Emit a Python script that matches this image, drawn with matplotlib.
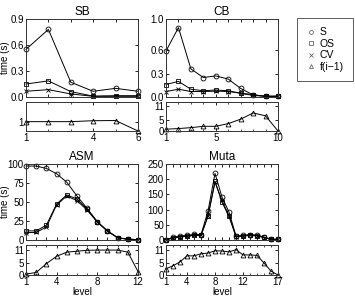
import numpy as np
import matplotlib
matplotlib.use("Agg")
import matplotlib.pyplot as plt
from matplotlib.lines import Line2D

plt.rcParams['font.family'] = ['Liberation Sans', 'DejaVu Sans']
plt.rcParams['font.size'] = 7

# datos
sb_S = [0.55, 0.78, 0.17, 0.066, 0.10, 0.066]
sb_OS = [0.15, 0.186, 0.062, 0.01, 0.015, 0.015]
sb_CV = [0.066, 0.085, 0.035, 0.008, 0.008, 0.008]
sb_f = [1, 1, 1, 1.1, 1.12, 0]

cb_S = [0.59, 0.89, 0.36, 0.25, 0.27, 0.23, 0.11, 0.026, 0.008, 0.008]
cb_OS = [0.16, 0.20, 0.10, 0.08, 0.09, 0.08, 0.047, 0.02, 0.01, 0.01]
cb_CV = [0.07, 0.10, 0.07, 0.07, 0.075, 0.07, 0.05, 0.03, 0.01, 0.01]
cb_f = [0.8, 1.1, 1.5, 2.1, 2.1, 3.3, 5.3, 8.1, 6.8, 0]

asm_S = [97.3, 97.3, 94.2, 87.2, 76.1, 58, 41.6, 24, 12, 3, 1, 0.5]
asm_OS = [12, 12, 19.5, 47.3, 59.3, 54, 40.7, 24, 12, 3, 1, 0.5]
asm_CV = [9.7, 10, 17, 46, 58, 51.8, 39.4, 23.5, 11.5, 3, 1, 0.5]
asm_f = [0.4, 1.1, 4.9, 8.1, 9.9, 10.3, 10.7, 10.8, 10.8, 10.8, 9.9, 1.5]

muta_S = [1, 8.7, 13, 15, 18.5, 17.5, 95, 219, 141, 92, 13, 15, 18, 16, 10, 2.5, 2.5]
muta_OS = [1, 7, 11, 13, 16, 15.5, 77.5, 193, 124, 77.5, 12, 13.5, 16.5, 14.5, 8.5, 2, 2]
muta_CV = [1, 6, 10, 12, 15, 15, 80, 190, 130, 80, 11, 12.5, 15.5, 13.5, 8, 2, 2]
muta_f = [2.7, 4, 5.7, 8.3, 8.3, 9.2, 9.5, 10.5, 10.4, 10, 11, 8.7, 8.7, 8.5, 5.2, 1.7, 0]

W, H = 355.0, 297.0
fig = plt.figure(figsize=(W / 100, H / 100), dpi=100)


def caja(x0, x1, y0, y1):
    return fig.add_axes([x0 / W, 1 - y1 / H, (x1 - x0) / W, (y1 - y0) / H])


def estilo(ax):
    for s in ax.spines.values():
        s.set_linewidth(0.7)
        s.set_color('#333333')
    ax.tick_params(direction='in', top=True, right=True, length=2.5, width=0.6,
                   pad=1.5, labelsize=7)
    ax.tick_params(which='minor', direction='in', top=True, right=True,
                   length=1.5, width=0.5)


kw = dict(color='black', lw=0.7, ms=3.5, mfc='none', mew=0.6, clip_on=False)


def panel(x0, x1, y0, ym, y1, S, OS, CV, f, titulo, yt, ytl, ylim, ft, fylim,
          xt, ylab=False, xlab=False):
    lv = np.arange(1, len(S) + 1)
    ax = caja(x0, x1, y0, ym)
    ax.plot(lv, S, marker='o', **kw)
    ax.plot(lv, OS, marker='s', **kw)
    ax.plot(lv, CV, marker='x', **kw)
    ax.set_xlim(1, len(S))
    ax.set_ylim(*ylim)
    ax.set_yticks(yt)
    ax.set_yticklabels(ytl)
    ax.set_xticks(lv)
    ax.set_xticklabels([])
    ax.set_title(titulo, fontsize=8.5, pad=3)
    if ylab:
        ax.set_ylabel('time (s)', fontsize=7)
        ax.yaxis.set_label_coords(-0.14, 0.5)
    estilo(ax)

    bx = caja(x0, x1, ym + 5, y1)
    bx.plot(lv, f, marker='^', **kw)
    bx.set_xlim(1, len(S))
    bx.set_ylim(*fylim)
    bx.set_yticks(ft)
    bx.set_xticks(xt)
    bx.set_xticks(lv, minor=True)
    if xlab:
        bx.set_xlabel('level', labelpad=0)
    estilo(bx)
    return ax, bx


panel(26, 138, 19, 97, 131, sb_S, sb_OS, sb_CV, sb_f, 'SB',
      [0, 0.3, 0.6, 0.9], ['0.0', '0.3', '0.6', '0.9'], (0, 0.9),
      [1], (0, 3.1), [1, 4, 6], ylab=True)
panel(166, 278, 19, 97, 131, cb_S, cb_OS, cb_CV, cb_f, 'CB',
      [0, 0.3, 0.6, 1.0], ['0.0', '0.3', '0.6', '1.0'], (0, 1.0),
      [0, 5, 11], (0, 13), [1, 5, 10])
panel(26, 138, 164, 240, 275, asm_S, asm_OS, asm_CV, asm_f, 'ASM',
      [0, 25, 50, 75, 100], ['0', '25', '50', '75', '100'], (0, 100),
      [0, 5, 11], (0, 13), [1, 4, 8, 12], ylab=True, xlab=True)
panel(166, 278, 164, 240, 275, muta_S, muta_OS, muta_CV, muta_f, 'Muta',
      [0, 50, 100, 150, 200, 250], ['0', '50', '100', '150', '200', '250'],
      (0, 250), [0, 5, 11], (0, 13), [1, 4, 8, 12, 17], xlab=True)

# leyenda
mk = dict(color='#666666', ls='none', ms=2.8, mfc='none', mew=0.6)
handles = [Line2D([], [], marker='o', **mk), Line2D([], [], marker='s', **mk),
           Line2D([], [], marker='x', **mk), Line2D([], [], marker='^', **mk)]
leg = fig.legend(handles, ['S', 'OS', 'CV', 'f(i\u22121)'], loc='upper left',
                 bbox_to_anchor=(297 / W, 1 - 18 / H), frameon=True,
                 fancybox=False, edgecolor='#333333', fontsize=7.5,
                 handlelength=0.8, handletextpad=0.5, labelspacing=0.15,
                 borderpad=0.9, borderaxespad=0)
leg.get_frame().set_linewidth(0.7)

fig.savefig('out.png', dpi=100)
